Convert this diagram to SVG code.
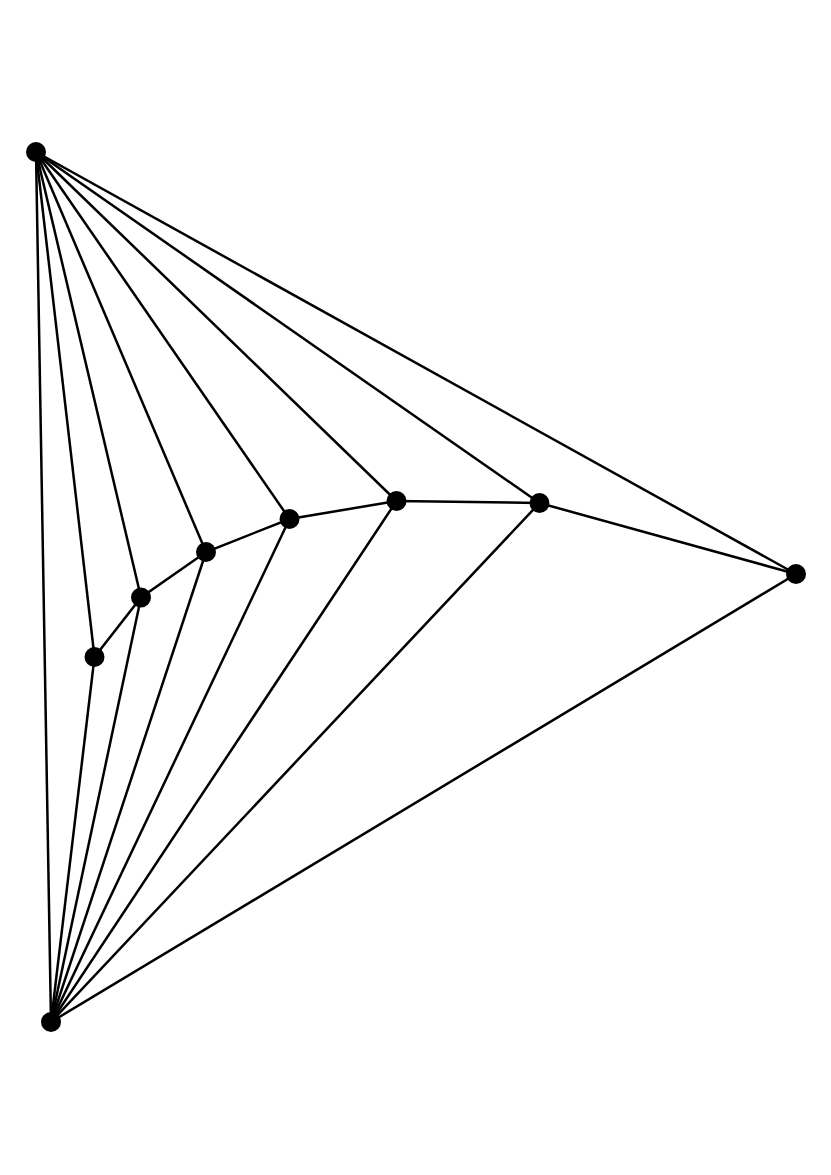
<svg xmlns="http://www.w3.org/2000/svg" width="831" height="1175" viewBox="0 0 831 1175">
<style>
.e{stroke:#000;stroke-width:2.5;fill:none}
.n{fill:#000}
</style>
<rect width="831" height="1175" fill="#fff"/>
<g id="edges" class="e">
<line x1="36" y1="152" x2="51" y2="1022"/>
<line x1="36" y1="152" x2="94.5" y2="657"/>
<line x1="36" y1="152" x2="141" y2="597.5"/>
<line x1="36" y1="152" x2="206" y2="552"/>
<line x1="36" y1="152" x2="289.5" y2="519"/>
<line x1="36" y1="152" x2="396.5" y2="501"/>
<line x1="36" y1="152" x2="539.5" y2="503"/>
<line x1="36" y1="152" x2="796" y2="574"/>
<line x1="51" y1="1022" x2="94.5" y2="657"/>
<line x1="51" y1="1022" x2="141" y2="597.5"/>
<line x1="51" y1="1022" x2="206" y2="552"/>
<line x1="51" y1="1022" x2="289.5" y2="519"/>
<line x1="51" y1="1022" x2="396.5" y2="501"/>
<line x1="51" y1="1022" x2="539.5" y2="503"/>
<line x1="51" y1="1022" x2="796" y2="574"/>
<polyline points="94.5,657 141,597.5 206,552 289.5,519 396.5,501 539.5,503 796,574"/>
</g>
<g id="nA"><circle class="n" cx="36" cy="152" r="10"/></g>
<g id="nB"><circle class="n" cx="51" cy="1022" r="10"/></g>
<g id="nC"><circle class="n" cx="796" cy="574" r="10"/></g>
<g id="n1"><circle class="n" cx="94.5" cy="657" r="10"/></g>
<g id="n2"><circle class="n" cx="141" cy="597.5" r="10"/></g>
<g id="n3"><circle class="n" cx="206" cy="552" r="10"/></g>
<g id="n4"><circle class="n" cx="289.5" cy="519" r="10"/></g>
<g id="n5"><circle class="n" cx="396.5" cy="501" r="10"/></g>
<g id="n6"><circle class="n" cx="539.5" cy="503" r="10"/></g>
</svg>
